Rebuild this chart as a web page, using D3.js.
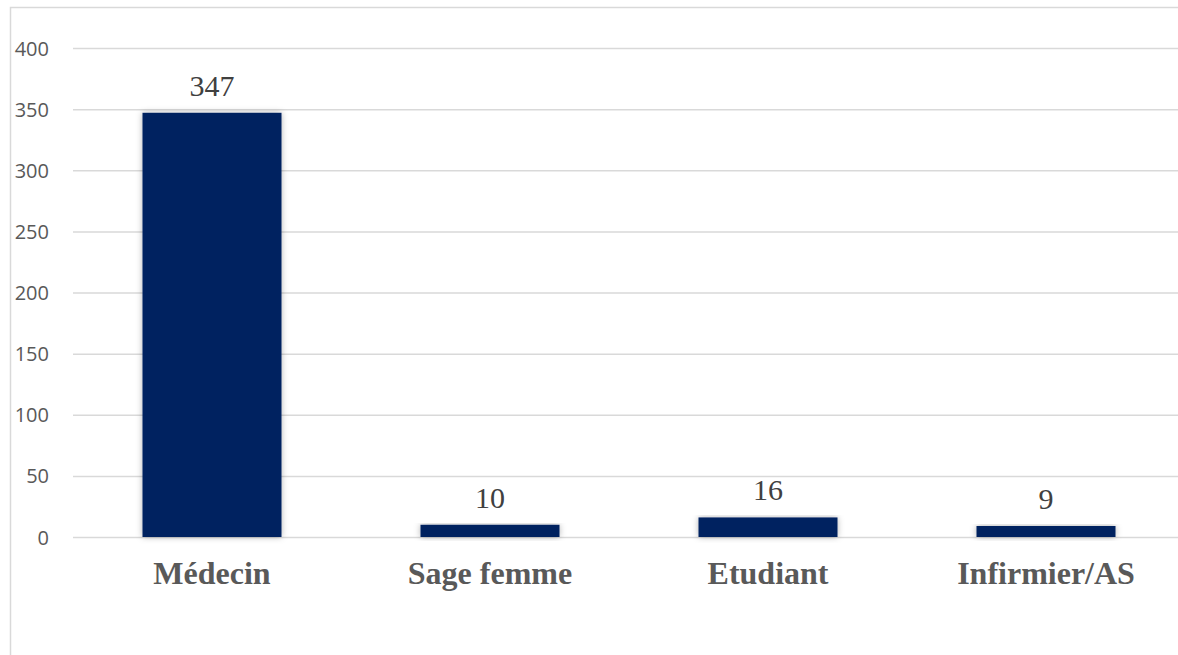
<!DOCTYPE html>
<html>
<head>
<meta charset="utf-8">
<script src="https://cdn.jsdelivr.net/npm/d3@7"></script>
<style>
  body { margin: 0; background: #fff; overflow: hidden; }
  svg { display: block; }
  .tick text { font-family: "Open Sans", "Noto Sans", sans-serif; font-size: 20px; fill: #595959; }
</style>
</head>
<body>
<div id="chart"></div>
<script>
const categories = ["Médecin", "Sage femme", "Etudiant", "Infirmier/AS"];
const values = [347, 10, 16, 9];
const yTicks = [0, 50, 100, 150, 200, 250, 300, 350, 400];

const width = 1178;
const height = 655;
// plot area runs a little past the right edge, like the cropped original
const margin = {top: 48, right: -7, bottom: 118, left: 73};
const plotW = width - margin.left - margin.right;
const plotH = height - margin.top - margin.bottom;

const data = categories.map((c, i) => ({name: c, value: values[i]}));

const svg = d3.select("#chart").append("svg")
  .attr("width", width)
  .attr("height", height);

// soft shadow round the bars
const defs = svg.append("defs");
defs.append("filter")
  .attr("id", "shadow")
  .attr("x", "-10%").attr("y", "-10%")
  .attr("width", "120%").attr("height", "140%")
  .append("feDropShadow")
  .attr("dx", 0).attr("dy", 0)
  .attr("stdDeviation", 3)
  .attr("flood-color", "#000")
  .attr("flood-opacity", 0.3);

// outer frame
svg.append("rect")
  .attr("x", 10.5).attr("y", 7.5)
  .attr("width", width + 20).attr("height", height + 20)
  .attr("fill", "none")
  .attr("stroke", "#d9d9d9")
  .attr("stroke-width", 1.5);

const scaleX = d3.scaleBand()
  .domain(categories)
  .range([0, plotW])
  .paddingInner(0.5)
  .paddingOuter(0.25);

const scaleY = d3.scaleLinear()
  .domain([0, 400])
  .range([plotH, 0]);

const g = svg.append("g").attr("transform", `translate(${margin.left}, ${margin.top})`);

const axisY = d3.axisLeft(scaleY)
  .tickValues(yTicks)
  .tickSize(-plotW)
  .tickPadding(24);

g.append("g")
  .attr("class", "axis--y")
  .call(axisY)
  .call(a => a.select(".domain").remove())
  .call(a => a.selectAll(".tick line").attr("stroke", "#d9d9d9").attr("stroke-width", 1.5))
  .call(a => a.selectAll(".tick text").attr("dy", "0.35em"));

g.selectAll(".bar")
  .data(data)
  .join("rect")
  .attr("class", "bar")
  .attr("x", d => scaleX(d.name))
  .attr("y", d => scaleY(d.value))
  .attr("width", scaleX.bandwidth())
  .attr("height", d => plotH - scaleY(d.value))
  .attr("fill", "#002060")
  .attr("filter", "url(#shadow)");

g.selectAll(".val")
  .data(data)
  .join("text")
  .attr("class", "val")
  .attr("x", d => scaleX(d.name) + scaleX.bandwidth() / 2)
  .attr("y", d => scaleY(d.value) - 17)
  .attr("text-anchor", "middle")
  .style("font-family", "'Liberation Serif', 'Times New Roman', serif")
  .style("font-size", "30px")
  .style("fill", "#404040")
  .text(d => d.value);

g.selectAll(".cat")
  .data(data)
  .join("text")
  .attr("class", "cat")
  .attr("x", d => scaleX(d.name) + scaleX.bandwidth() / 2)
  .attr("y", plotH + 47)
  .attr("text-anchor", "middle")
  .style("font-family", "'Liberation Serif', 'Times New Roman', serif")
  .style("font-size", "32px")
  .style("font-weight", "bold")
  .style("fill", "#595959")
  .text(d => d.name);
</script>
</body>
</html>
